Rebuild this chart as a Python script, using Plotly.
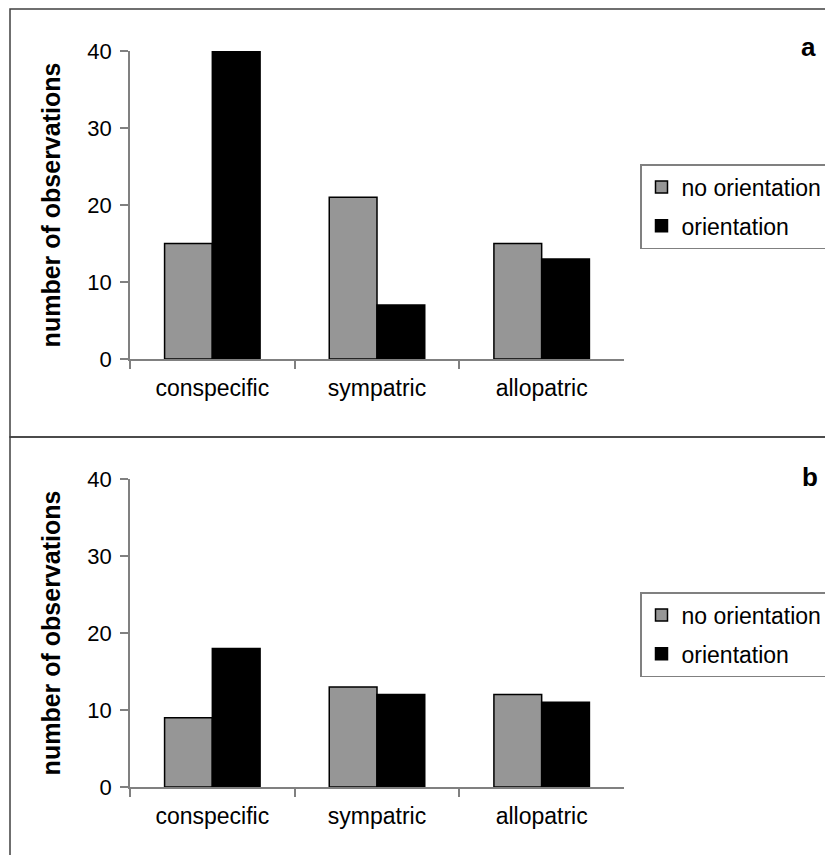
import plotly.graph_objects as go

categories = ["conspecific", "sympatric", "allopatric"]
series_names = ["no orientation", "orientation"]
a_no_orientation = [15, 21, 15]
a_orientation = [40, 7, 13]
b_no_orientation = [9, 13, 12]
b_orientation = [18, 12, 11]
y_ticks = [0, 10, 20, 30, 40]

# page body has an 8px margin; work in viewport pixel coordinates
OFF = 8
W, H = 833 - 2 * OFF, 863 - 2 * OFF
FONT = "Liberation Sans, Arial, sans-serif"
GRAY = "#969696"

fig = go.Figure()

def add_bars(vals_no, vals_or, xa, ya, legend, tag):
    fig.add_trace(go.Bar(x=categories, y=vals_no, name=series_names[0],
                         marker=dict(color=GRAY, line=dict(color="black", width=1.5)),
                         xaxis=xa, yaxis=ya, legend=legend, legendgroup=tag + "1"))
    fig.add_trace(go.Bar(x=categories, y=vals_or, name=series_names[1],
                         marker=dict(color="black", line=dict(color="black", width=1.5)),
                         xaxis=xa, yaxis=ya, legend=legend, legendgroup=tag + "2"))

add_bars(a_no_orientation, a_orientation, "x", "y", "legend", "a")
add_bars(b_no_orientation, b_orientation, "x2", "y2", "legend2", "b")

def px_x(p):
    return (p - OFF) / W

def px_y(p):
    return 1 - (p - OFF) / H

xdom = [px_x(130), px_x(624)]
axis_common = dict(showline=True, linecolor="#808080", linewidth=1.5,
                   ticks="outside", ticklen=8, tickcolor="#808080", tickwidth=1.5,
                   showgrid=False, zeroline=False, automargin=False,
                   tickfont=dict(family=FONT, size=22, color="black"))

xaxis = dict(axis_common, type="category", range=[-0.5, 2.5], tickson="boundaries",
             domain=xdom, ticklabelstandoff=8,
             tickfont=dict(family=FONT, size=23, color="black"))
yaxis_t = dict(axis_common, range=[0, 40], tickvals=y_ticks, ticklabelstandoff=4,
               title=dict(text="<b>number of observations</b>", standoff=20,
                          font=dict(family=FONT, size=25, color="black")))

legend_common = dict(xanchor="left", yanchor="top",
                     bordercolor="#808080", borderwidth=1.5, bgcolor="white",
                     font=dict(family=FONT, size=23, color="black"),
                     traceorder="grouped", tracegroupgap=6, itemwidth=30)

fig.update_layout(
    width=W, height=H,
    margin=dict(l=0, r=0, t=0, b=0, autoexpand=False),
    paper_bgcolor="white", plot_bgcolor="white",
    barmode="group", bargap=0.42, bargroupgap=0,
    xaxis=dict(xaxis, anchor="y"),
    yaxis=dict(yaxis_t, domain=[px_y(359), px_y(51)], anchor="x"),
    xaxis2=dict(xaxis, anchor="y2"),
    yaxis2=dict(yaxis_t, domain=[px_y(787), px_y(479)], anchor="x2"),
    legend=dict(legend_common, x=px_x(640), y=px_y(164)),
    legend2=dict(legend_common, x=px_x(640), y=px_y(592)),
    showlegend=True,
    shapes=[
        dict(type="rect", xref="paper", yref="paper", x0=px_x(10), x1=px_x(850),
             y0=px_y(437), y1=px_y(9), line=dict(color="#404040", width=1.5)),
        dict(type="rect", xref="paper", yref="paper", x0=px_x(10), x1=px_x(850),
             y0=px_y(880), y1=px_y(437), line=dict(color="#404040", width=1.5)),
    ],
    annotations=[
        dict(text="<b>a</b>", xref="paper", yref="paper", x=px_x(808), y=px_y(47),
             xanchor="center", yanchor="middle", showarrow=False,
             font=dict(family=FONT, size=26, color="black")),
        dict(text="<b>b</b>", xref="paper", yref="paper", x=px_x(810), y=px_y(477),
             xanchor="center", yanchor="middle", showarrow=False,
             font=dict(family=FONT, size=26, color="black")),
    ],
)

fig.write_html("out.html")
